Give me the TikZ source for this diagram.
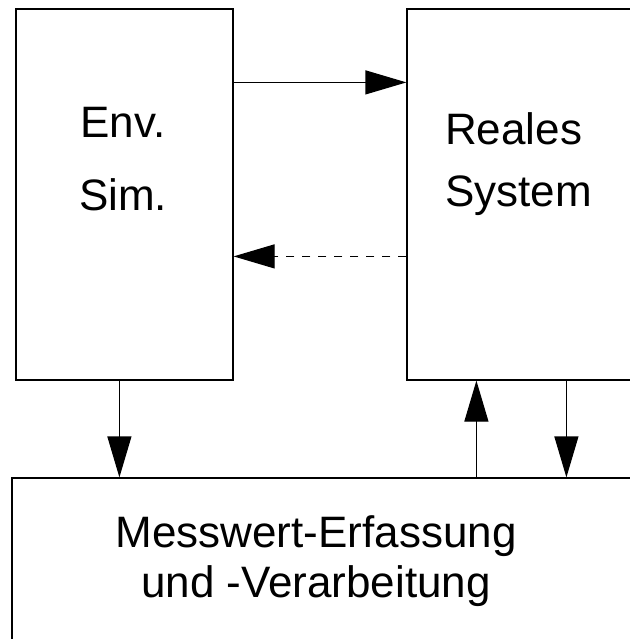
\documentclass[tikz,border=0pt]{standalone}
\usepackage{fontspec}
\setmainfont{Liberation Sans}
\usepackage{tikz}
\usetikzlibrary{arrows.meta, calc}
\tikzstyle{block} = [rectangle, draw=black, line width=1.2pt, fill=white, inner sep=0pt]
\tikzstyle{label} = [inner sep=0pt, font=\fontsize{44}{44}\selectfont]
\tikzstyle{arrow} = [line width=1.2pt, -{Triangle[length=41pt, width=24pt]}]

\begin{document}
\begin{tikzpicture}[x=1pt, y=-1pt]
    \useasboundingbox (0,0) rectangle (629,639);
    \node[block, minimum width=217pt, minimum height=371pt] (env) at (124.5,194.5) {};
    \node[block, minimum width=243pt, minimum height=371pt] (real) at (528.5,194.5) {};
    \node[block, minimum width=638pt, minimum height=202pt] (mess) at (331,579) {};

    \node[label, align=center, font=\fontsize{44}{73}\selectfont] (envtxt) at (123,159) {Env.\\Sim.};
    \node[label, align=left, anchor=west, font=\fontsize{44}{62}\selectfont] (realtxt) at (445,164.5) {Reales\\System};
    \node[label, align=center, font=\fontsize{44}{50}\selectfont] (messtxt) at (316,561.5) {Messwert-Erfassung\\und -Verarbeitung};

    \draw[arrow] ([yshift=-74pt]env.north east) -- ([yshift=-74pt]env.north east -| real.west);
    \draw[arrow, dash pattern=on 8pt off 8pt] ([yshift=-248pt]real.north west) -- ([yshift=-248pt]real.north west -| env.east);
    \draw[arrow] ([xshift=104pt]env.south west) -- ([xshift=104pt]env.south west |- mess.north);
    \draw[arrow] ([xshift=70pt]real.south west |- mess.north) -- ([xshift=70pt]real.south west);
    \draw[arrow] ([xshift=160pt]real.south west) -- ([xshift=160pt]real.south west |- mess.north);
\end{tikzpicture}
\end{document}
